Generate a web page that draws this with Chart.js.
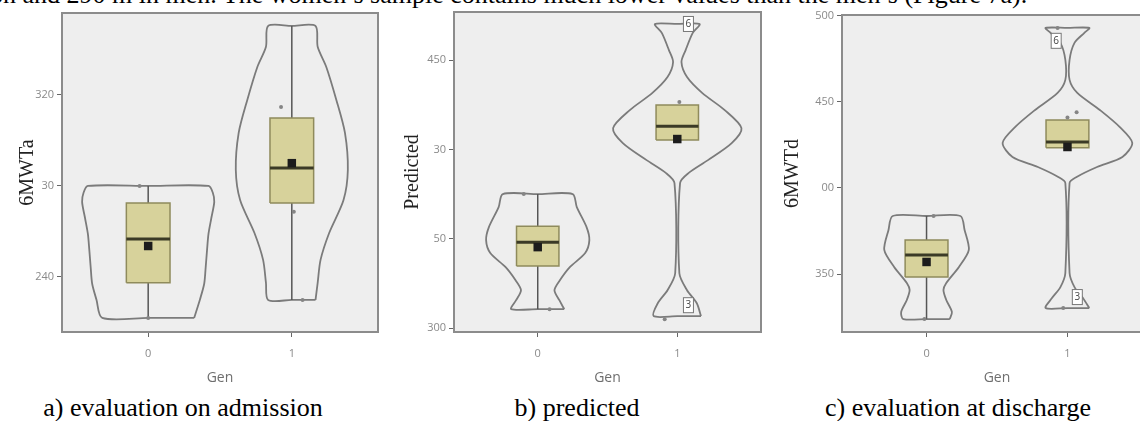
<!DOCTYPE html>
<html>
<head>
<meta charset="utf-8">
<script src="https://cdn.jsdelivr.net/npm/chart.js@4"></script>
<style>
html, body { margin: 0; padding: 0; width: 1140px; height: 421px; overflow: hidden; background: #fff; }
.panel { position: absolute; top: 0; height: 390px; }
.cap { position: absolute; top: 395px; font-family: 'Liberation Serif', serif; font-size: 26px; line-height: 26px; color: #000; white-space: nowrap; transform: translateX(-50%); }
#topline { position: absolute; left: -10px; top: -18px; font-family: 'Liberation Serif', serif; font-size: 26px; line-height: 26px; color: #000; white-space: nowrap; }
</style>
</head>
<body>
<div id="topline">on and 290 m in men. The women’s sample contains much lower values than the men’s (Figure 7a).</div>

<div class="panel" style="left:0px;width:384px"><canvas id="chartA"></canvas></div>
<div class="panel" style="left:384px;width:383px"><canvas id="chartB"></canvas></div>
<div class="panel" style="left:770px;width:390px"><canvas id="chartC"></canvas></div>

<div class="cap" style="left:183px">a) evaluation on admission</div>
<div class="cap" style="left:577px">b) predicted</div>
<div class="cap" style="left:958px">c) evaluation at discharge</div>

<script>
// categories (Gen)
var genLabels = ['0', '1'];

// a) evaluation on admission - 6MWTa
var aTicks = [240, 280, 320];
var aTickLabels = ['240', '30', '320'];
var aViolin0Y = [222, 230, 237, 244, 252, 259, 266, 273, 277, 280];
var aViolin0W = [0.32, 0.36, 0.39, 0.40, 0.41, 0.42, 0.44, 0.46, 0.45, 0.42];
var aViolin1Y = [229.9, 237.4, 247.5, 259.3, 273.8, 287, 303.3, 317.8, 332.3, 341.2, 350.3];
var aViolin1W = [0.165, 0.18, 0.2, 0.26, 0.36, 0.39, 0.37, 0.31, 0.24, 0.18, 0.165];
var aQ1 = [237.4, 272.5];
var aQ3 = [272.5, 309.9];
var aMedian = [256.7, 287.9];
var aMean = [253.6, 290];
var aWhiskerLo = [222, 229.9];
var aWhiskerHi = [280, 350.3];
var aPointsX = [-0.06, 0, 0.925, 1.014, 1.075];
var aPointsY = [280, 222, 314.7, 268.6, 229.9];
var aOutlierText = [];
var aOutlierX = [];
var aOutlierY = [];

// b) predicted
var bTicks = [300, 350, 400, 450];
var bTickLabels = ['300', '50', '30', '450'];
var bViolin0Y = [310.6, 315.6, 321.2, 326.9, 334.1, 342, 349.2, 356.5, 367.7, 375];
var bViolin0W = [0.19, 0.155, 0.12, 0.16, 0.23, 0.34, 0.37, 0.35, 0.28, 0.25];
var bViolin1Y = [306.7, 313.9, 321.2, 330.7, 381.1, 386.7, 394, 403.5, 411.9, 422, 431.5, 440.5, 448.9, 455.6, 465.1, 470.2];
var bViolin1W = [0.17, 0.14, 0.07, 0.015, 0.02, 0.08, 0.22, 0.39, 0.46, 0.34, 0.18, 0.07, 0.03, 0.06, 0.11, 0.16];
var bQ1 = [334.7, 405.2];
var bQ3 = [357, 424.8];
var bMedian = [348, 413];
var bMean = [345.3, 405.8];
var bWhiskerLo = [310.6, null];
var bWhiskerHi = [375, null];
var bPointsX = [-0.1, 0.085, 1.015, 0.91];
var bPointsY = [375, 310.6, 426.5, 305];
var bOutlierText = ['6', '3'];
var bOutlierX = [1.08, 1.08];
var bOutlierY = [470.2, 312.8];

// c) evaluation at discharge - 6MWTd
var cTicks = [350, 400, 450, 500];
var cTickLabels = ['350', '00', '450', '500'];
var cViolin0Y = [323.8, 327.9, 334.9, 340.7, 344.8, 354.1, 364, 375.6, 383.7];
var cViolin0W = [0.165, 0.18, 0.14, 0.12, 0.14, 0.23, 0.3, 0.27, 0.24];
var cViolin1Y = [330.2, 336, 342.4, 350.6, 402.9, 406.4, 412.2, 418, 426.2, 435.5, 445.3, 455.2, 462.8, 474.4, 484.3, 490.1, 493];
var cViolin1W = [0.155, 0.11, 0.05, 0.015, 0.015, 0.065, 0.21, 0.39, 0.46, 0.37, 0.23, 0.07, 0.015, 0.015, 0.05, 0.12, 0.155];
var cQ1 = [348.3, 423.3];
var cQ3 = [369.8, 439.5];
var cMedian = [361, 426.7];
var cMean = [357, 423.8];
var cWhiskerLo = [323.8, null];
var cWhiskerHi = [383.7, null];
var cPointsX = [0.05, -0.015, 1.0, 1.065, 0.93, 0.97];
var cPointsY = [383.7, 323.8, 441, 444, 493, 330.2];
var cOutlierText = ['6', '3'];
var cOutlierX = [0.92, 1.07];
var cOutlierY = [485.5, 336.6];

var BOX_HALF = 0.152;

function violinPoints(c, ys, ws) {
  var pts = [];
  for (var i = 0; i < ys.length; i++) pts.push({x: c + ws[i], y: ys[i]});
  pts.push({x: c, y: ys[ys.length - 1]});
  for (var j = ys.length - 1; j >= 0; j--) pts.push({x: c - ws[j], y: ys[j]});
  pts.push({x: c, y: ys[0]});
  pts.push({x: c + ws[0], y: ys[0]});
  return pts;
}

var framePlugin = {
  id: 'frame',
  beforeDatasetsDraw: function (chart) {
    var a = chart.chartArea, ctx = chart.ctx;
    ctx.save();
    ctx.fillStyle = '#eeeeee';
    ctx.fillRect(a.left, a.top, a.right - a.left, a.bottom - a.top);
    ctx.restore();
  },
  afterDatasetsDraw: function (chart) {
    var a = chart.chartArea, ctx = chart.ctx;
    var p = chart.options.plugins.frame;
    ctx.save();
    // outlier case labels
    ctx.font = '10px "Open Sans"';
    ctx.textAlign = 'center';
    ctx.textBaseline = 'middle';
    for (var i = 0; i < p.text.length; i++) {
      var px = chart.scales.x.getPixelForValue(p.x[i]);
      var py = chart.scales.y.getPixelForValue(p.y[i]);
      ctx.fillStyle = '#ffffff';
      ctx.fillRect(px - 5, py - 7.5, 10, 15);
      ctx.strokeStyle = '#777';
      ctx.lineWidth = 1;
      ctx.strokeRect(px - 5, py - 7.5, 10, 15);
      ctx.fillStyle = '#444';
      ctx.fillText(p.text[i], px, py);
    }
    ctx.strokeStyle = '#8c8c8c';
    ctx.lineWidth = 2;
    ctx.strokeRect(a.left, a.top, a.right - a.left, a.bottom - a.top);
    ctx.restore();
  }
};

function makePanel(id, d) {
  var datasets = [];
  var vY = [d.v0Y, d.v1Y], vW = [d.v0W, d.v1W];
  for (var g = 0; g < 2; g++) {
    datasets.push({
      data: violinPoints(g, vY[g], vW[g]),
      showLine: true, fill: false, tension: 0.28,
      borderColor: '#7b7b7b', borderWidth: 1.8, pointRadius: 0, order: 6
    });
    if (d.wLo[g] !== null) {
      datasets.push({
        data: [{x: g, y: d.wLo[g]}, {x: g, y: d.wHi[g]}],
        showLine: true, borderColor: '#555555', borderWidth: 1.5, pointRadius: 0, order: 5
      });
    }
    datasets.push({
      data: [
        {x: g - BOX_HALF, y: d.q1[g]}, {x: g + BOX_HALF, y: d.q1[g]},
        {x: g + BOX_HALF, y: d.q3[g]}, {x: g - BOX_HALF, y: d.q3[g]},
        {x: g - BOX_HALF, y: d.q1[g]}
      ],
      showLine: true, fill: 'shape', tension: 0,
      backgroundColor: '#d7d29b', borderColor: '#8f8b5c', borderWidth: 1.5, pointRadius: 0, order: 4
    });
    datasets.push({
      data: [{x: g - BOX_HALF, y: d.med[g]}, {x: g + BOX_HALF, y: d.med[g]}],
      showLine: true, borderColor: '#3b3a26', borderWidth: 3, pointRadius: 0, order: 3
    });
    datasets.push({
      data: [{x: g, y: d.mean[g]}],
      pointStyle: 'rect', pointRadius: 6, backgroundColor: '#1c1c1c', borderColor: '#1c1c1c', borderWidth: 0, order: 1
    });
  }
  datasets.push({
    data: d.px.map(function (x, i) { return {x: x, y: d.py[i]}; }),
    pointRadius: 2, backgroundColor: '#858585', borderWidth: 0, order: 2
  });

  return new Chart(document.getElementById(id), {
    type: 'scatter',
    data: {datasets: datasets},
    plugins: [framePlugin],
    options: {
      responsive: true,
      maintainAspectRatio: false,
      animation: false,
      layout: {padding: d.padding},
      plugins: {
        legend: {display: false},
        tooltip: {enabled: false},
        frame: {text: d.oText, x: d.oX, y: d.oY}
      },
      scales: {
        x: {
          type: 'linear', min: -0.6, max: d.xMax,
          afterBuildTicks: function (s) { s.ticks = [{value: 0}, {value: 1}]; },
          afterFit: function (s) { s.height = 58; },
          ticks: {
            callback: function (v, i) { return genLabels[i]; },
            color: '#8a8a8a', font: {family: 'Open Sans', size: 11}, padding: 10
          },
          grid: {drawOnChartArea: false, drawTicks: true, tickLength: 5, color: '#666'},
          border: {display: false},
          title: {display: true, text: 'Gen', color: '#6e6e6e', font: {family: 'Open Sans', size: 14}, padding: {top: 4, bottom: 4}}
        },
        y: {
          type: 'linear', min: d.yMin, max: d.yMax,
          afterBuildTicks: function (s) { s.ticks = d.ticks.map(function (v) { return {value: v}; }); },
          afterFit: function (s) { s.width = d.yWidth; },
          ticks: {
            callback: function (v, i) { return d.tickLabels[i]; },
            color: '#8a8a8a', font: {family: 'Open Sans', size: 11}, padding: 3
          },
          grid: {drawOnChartArea: false, drawTicks: true, tickLength: 5, color: '#666'},
          border: {display: false},
          title: {display: true, text: d.title, color: '#222', font: {family: 'Liberation Serif', size: 20}, padding: {top: 4, bottom: 4}}
        }
      }
    }
  });
}

makePanel('chartA', {
  title: '6MWTa', yMin: 215.8, yMax: 356, xMax: 1.6, ticks: aTicks, tickLabels: aTickLabels,
  v0Y: aViolin0Y, v0W: aViolin0W, v1Y: aViolin1Y, v1W: aViolin1W,
  q1: aQ1, q3: aQ3, med: aMedian, mean: aMean, wLo: aWhiskerLo, wHi: aWhiskerHi,
  px: aPointsX, py: aPointsY, oText: aOutlierText, oX: aOutlierX, oY: aOutlierY,
  padding: {left: 12, top: 13, right: 2, bottom: 0}, yWidth: 50
});
makePanel('chartB', {
  title: 'Predicted', yMin: 297.8, yMax: 476.9, xMax: 1.6, ticks: bTicks, tickLabels: bTickLabels,
  v0Y: bViolin0Y, v0W: bViolin0W, v1Y: bViolin1Y, v1W: bViolin1W,
  q1: bQ1, q3: bQ3, med: bMedian, mean: bMean, wLo: bWhiskerLo, wHi: bWhiskerHi,
  px: bPointsX, py: bPointsY, oText: bOutlierText, oX: bOutlierX, oY: bOutlierY,
  padding: {left: 13, top: 12, right: 2, bottom: 0}, yWidth: 57
});
makePanel('chartC', {
  title: '6MWTd', yMin: 316.3, yMax: 500.5, xMax: 1.6, ticks: cTicks, tickLabels: cTickLabels,
  v0Y: cViolin0Y, v0W: cViolin0W, v1Y: cViolin1Y, v1W: cViolin1W,
  q1: cQ1, q3: cQ3, med: cMedian, mean: cMean, wLo: cWhiskerLo, wHi: cWhiskerHi,
  px: cPointsX, py: cPointsY, oText: cOutlierText, oX: cOutlierX, oY: cOutlierY,
  padding: {left: 7, top: 15, right: 8, bottom: 0}, yWidth: 65
});
</script>
</body>
</html>
